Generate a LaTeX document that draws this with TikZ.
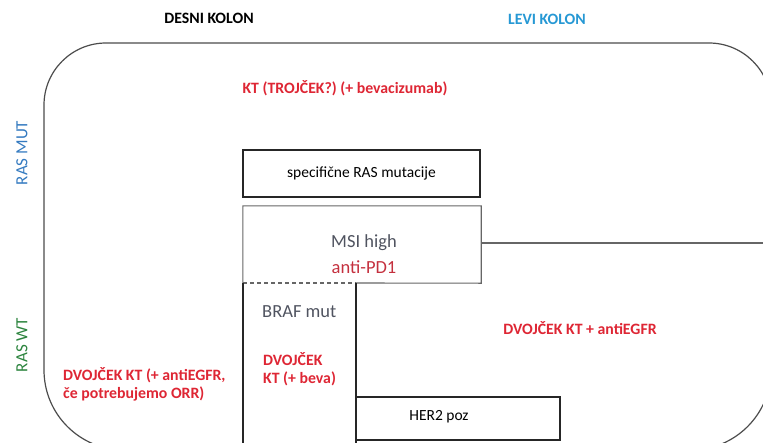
\documentclass[tikz,border=0pt]{standalone}
\usepackage{fontspec}
\setmainfont{Carlito}
\begin{document}
\begin{tikzpicture}[x=1pt,y=-1pt,
  outline/.style={draw=black!70,line width=1.2pt},
  boxline/.style={draw=black!85,line width=1.3pt},
  grayline/.style={draw=black!60,line width=1.1pt},
  redtxt/.style={text=txtred,font=\bfseries\fontsize{15.8}{18}\selectfont,inner sep=0pt},
  head/.style={font=\bfseries\fontsize{15.8}{18}\selectfont,inner sep=0pt},
  side/.style={rotate=90,font=\fontsize{17}{18}\selectfont,inner sep=0pt},
  plain/.style={font=\fontsize{15.5}{18}\selectfont,inner sep=0pt},
  graytxt/.style={text=txtgray,font=\fontsize{18.5}{22}\selectfont,inner sep=0pt}]
\definecolor{txtred}{RGB}{222,38,52}
\definecolor{pdred}{RGB}{196,48,62}
\definecolor{txtgray}{RGB}{80,84,96}
\definecolor{levi}{RGB}{38,152,212}
\definecolor{rasmut}{RGB}{52,122,192}
\definecolor{raswt}{RGB}{44,132,62}
\useasboundingbox (0,0) rectangle (763,442);
\clip (0,0) rectangle (763,442);

% column headings and row labels
\node[head] (desni) at (209,18) {DESNI KOLON};
\node[head,text=levi] (levi) at (547,19) {LEVI KOLON};
\node[side,text=rasmut] (rasmut) at (22,153) {RAS MUT};
\node[side,text=raswt] (raswt) at (22,345) {RAS WT};

% outer rounded frame
\draw[outline] (44,105) .. controls (44,70.8) and (71.8,43) .. (106,43)
  -- (709,43) .. controls (743.2,43) and (771,70.8) .. (771,105)
  -- (771,370) .. controls (771,414.2) and (735.2,450) .. (691,450)
  -- (124,450) .. controls (79.8,450) and (44,414.2) .. (44,370) -- cycle;

% RAS mutant region
\node[redtxt] (kt) at (345,88) {KT (TROJČEK?) (+ bevacizumab)};
\node[boxline,plain,minimum width=237pt,minimum height=47pt] (spec) at (361.5,173.5) {specifične RAS mutacije};

% MSI high box
\node[inner sep=0pt,minimum width=238pt,minimum height=77pt] (msi) at (362,244.5) {};
\node[graytxt] (msitxt) at (364,243) {MSI high};
\node[text=pdred,font=\fontsize{18.5}{22}\selectfont,inner sep=0pt] (pd1) at (364,267) {anti-PD1};
\draw[grayline] (msi.south west) -- (msi.north west) -- (msi.north east) -- (msi.south east) -- (356,283);
\coordinate (rightedge) at (771,243);
\draw[grayline] (msi.east |- rightedge) -- (rightedge);

% BRAF column
\coordinate (brafnw) at (243,283);
\coordinate (brafne) at (356,283);
\coordinate (brafsw) at (243,450);
\coordinate (brafse) at (356,450);
\draw[grayline,dashed,dash pattern=on 4pt off 3pt] (brafnw) -- (brafne);
\draw[boxline] (brafnw) -- (brafsw);
\draw[boxline] (brafne) -- (brafse);
\node[graytxt,anchor=west] (braf) at (262,312) {BRAF mut};
\node[redtxt,anchor=north west,align=left] (dvb) at (263,352) {DVOJČEK\\KT (+ beva)};

% RAS wild type region
\node[redtxt,anchor=north west,align=left] (dvl) at (63,367) {DVOJČEK KT (+ antiEGFR,\\če potrebujemo ORR)};
\node[redtxt] (dvr) at (580,328) {DVOJČEK KT + antiEGFR};

% HER2 box
\node[boxline,minimum width=204pt,minimum height=43pt,inner sep=0pt] (her2) at (458,418.5) {};
\node[plain] (her2txt) at (439,417) {HER2 poz};
\end{tikzpicture}
\end{document}
